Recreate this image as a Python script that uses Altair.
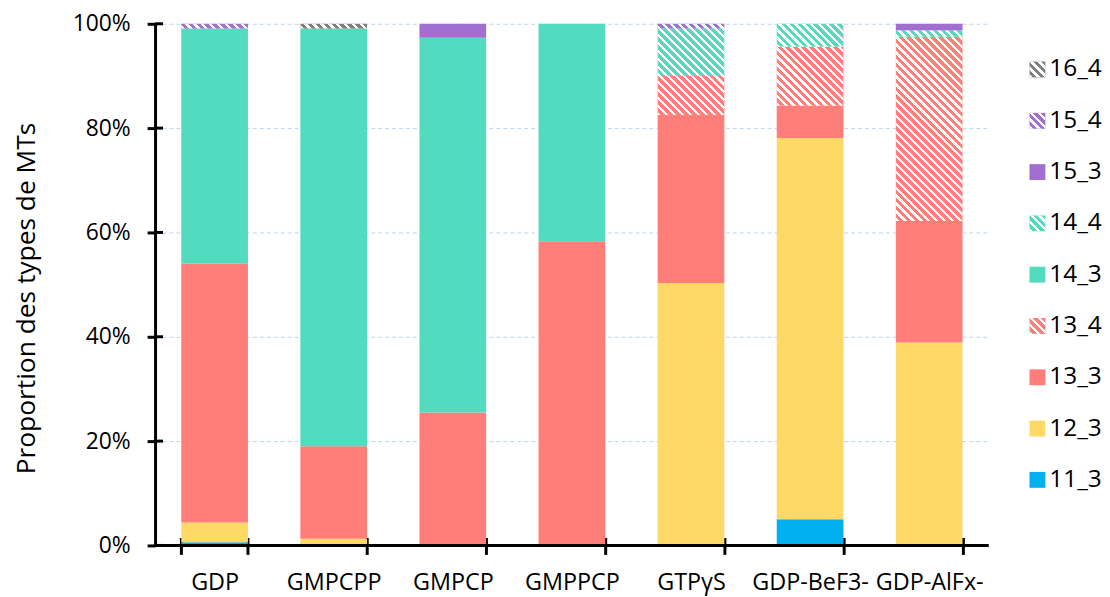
import altair as alt
import pandas as pd

categories = ["GDP", "GMPCPP", "GMPCP", "GMPPCP", "GTPγS", "GDP-BeF3-", "GDP-AlFx-"]
types = ["11_3", "12_3", "13_3", "13_4", "14_3", "14_4", "15_3", "15_4", "16_4"]

v_11_3 = [0.6, 0.0, 0.0, 0.0, 0.0, 5.0, 0.0]
v_12_3 = [3.8, 1.3, 0.0, 0.0, 50.3, 73.1, 38.9]
v_13_3 = [49.6, 17.7, 25.5, 58.3, 32.2, 6.2, 23.3]
v_13_4 = [0.0, 0.0, 0.0, 0.0, 7.5, 11.3, 35.3]
v_14_3 = [45.1, 80.1, 71.8, 41.7, 0.0, 0.0, 0.0]
v_14_4 = [0.0, 0.0, 0.0, 0.0, 9.1, 4.4, 1.2]
v_15_3 = [0.0, 0.0, 2.7, 0.0, 0.0, 0.0, 1.3]
v_15_4 = [0.9, 0.0, 0.0, 0.0, 0.9, 0.0, 0.0]
v_16_4 = [0.0, 0.9, 0.0, 0.0, 0.0, 0.0, 0.0]

colors = ["#00B0F0", "#FFD966", "#FF7E79", "#FF7E79", "#52DBBE", "#52DBBE", "#A16FD0", "#A16FD0", "#808080"]
y_ticks = [0.0, 0.2, 0.4, 0.6, 0.8, 1.0]

series = [v_11_3, v_12_3, v_13_3, v_13_4, v_14_3, v_14_4, v_15_3, v_15_4, v_16_4]
rows = []
for ti, (t, vals) in enumerate(zip(types, series)):
    for c, v in zip(categories, vals):
        rows.append({"cat": c, "type": t, "value": v, "order": ti})
df = pd.DataFrame(rows)

FONT = "Open Sans"
W, H = 839, 525
P_INNER, P_OUTER = 0.44, 0.22
BAND_W = W / (len(categories) - P_INNER + 2 * P_OUTER) * (1 - P_INNER)


def hatch(w, h, period=8.0, frac=0.42):
    L = w + h
    lam = (w + h) * w / (w * w + h * h)
    clear, white = "rgba(255,255,255,0)", "#ffffff"
    stops = []
    k = 0
    while k * period < L:
        a = k * period / L
        b = min((k * period + frac * period) / L, 1.0)
        stops += [(a, clear), (a, white), (b, white), (b, clear)]
        k += 1
    return alt.LinearGradient(
        gradient="linear",
        stops=[alt.GradientStop(offset=o, color=c) for o, c in stops],
        x1=0, y1=1, x2=lam, y2=1 - lam * h / w,
    )


color_scale = alt.Scale(domain=types, range=colors)

x_enc = alt.X(
    "cat:N", sort=categories,
    scale=alt.Scale(paddingInner=P_INNER, paddingOuter=P_OUTER),
    axis=alt.Axis(title=None, labelAngle=0, labelFontSize=23.5, labelFont=FONT, labelColor="black",
                  labelPadding=16, tickBand="extent", tickSize=17, tickWidth=3, tickColor="black",
                  domain=False, offset=-8, labelOverlap=False),
)
y_axis = alt.Axis(values=y_ticks, format=".0%", labelFontSize=23, labelFont=FONT, labelColor="black",
                  labelPadding=17, tickSize=8, tickWidth=3, tickColor="black",
                  domainColor="black", domainWidth=3, grid=True, gridColor="#BCD6EE",
                  gridDash=[4, 3], gridWidth=1, title="Proportion des types de MTs",
                  titleFontSize=26.5, titleFont=FONT, titleFontWeight="normal", titleColor="black",
                  titleX=-121, titleY=276, titleAngle=270, titleBaseline="alphabetic", titleAlign="center")
y_enc = alt.Y("v0:Q", scale=alt.Scale(domain=[0, 1]), axis=y_axis)

base = alt.Chart(df).transform_filter("datum.value > 0").transform_stack(
    stack="value", groupby=["cat"], sort=[alt.SortField("order")], as_=["v0", "v1"], offset="normalize"
)

bars = base.mark_bar().encode(
    x=x_enc, y=y_enc, y2="v1:Q",
    color=alt.Color("type:N", scale=color_scale, legend=None),
)

layers = [bars]
for t, vals in zip(types, series):
    if not t.endswith("_4"):
        continue
    for c, v in zip(categories, vals):
        if v <= 0:
            continue
        h = v / 100.0 * H
        layers.append(
            base.transform_filter(f"datum.cat == '{c}' && datum.type == '{t}'")
            .mark_bar(fill=hatch(BAND_W, h))
            .encode(x=x_enc, y=y_enc, y2="v1:Q")
        )

tick_df = pd.DataFrame({"v0": y_ticks})
inner_ticks = alt.Chart(tick_df).mark_rule(color="black", strokeWidth=3).encode(
    y=y_enc, x=alt.value(0), x2=alt.value(8)
)
x_domain = alt.Chart(tick_df).transform_filter("datum.v0 == 0").mark_rule(color="black", strokeWidth=3).encode(
    y=y_enc, x=alt.value(0), x2=alt.value(W)
)
layers += [inner_ticks, x_domain]

main = alt.layer(*layers).properties(width=W, height=H)

legend_order = types[::-1]
leg_df = pd.DataFrame({"type": legend_order})
leg_base = alt.Chart(leg_df).encode(
    y=alt.Y("type:N", sort=legend_order, scale=alt.Scale(type="point", range=[46, 459], padding=0), axis=None)
)
leg_sq = leg_base.mark_square(size=256, opacity=1).encode(
    x=alt.value(8), color=alt.Color("type:N", scale=color_scale, legend=None)
)
leg_hatch = leg_base.transform_filter(alt.FieldOneOfPredicate(field="type", oneOf=[t for t in types if t.endswith("_4")])).mark_square(
    size=256, opacity=1, fill=hatch(16, 16)
).encode(x=alt.value(8))
leg_txt = leg_base.mark_text(align="left", baseline="middle", fontSize=24.5, font=FONT, color="black").encode(
    x=alt.value(20), text="type:N"
)
legend = alt.layer(leg_sq, leg_hatch, leg_txt).properties(width=50, height=505)

chart = (
    alt.hconcat(main, legend, spacing=41, bounds="flush")
    .resolve_scale(y="independent", color="shared")
    .configure_view(strokeWidth=0)
    .properties(padding={"left": 6, "top": 3, "right": 0, "bottom": 0})
)

chart.save("out.html", embed_options={"renderer": "svg", "actions": False})
